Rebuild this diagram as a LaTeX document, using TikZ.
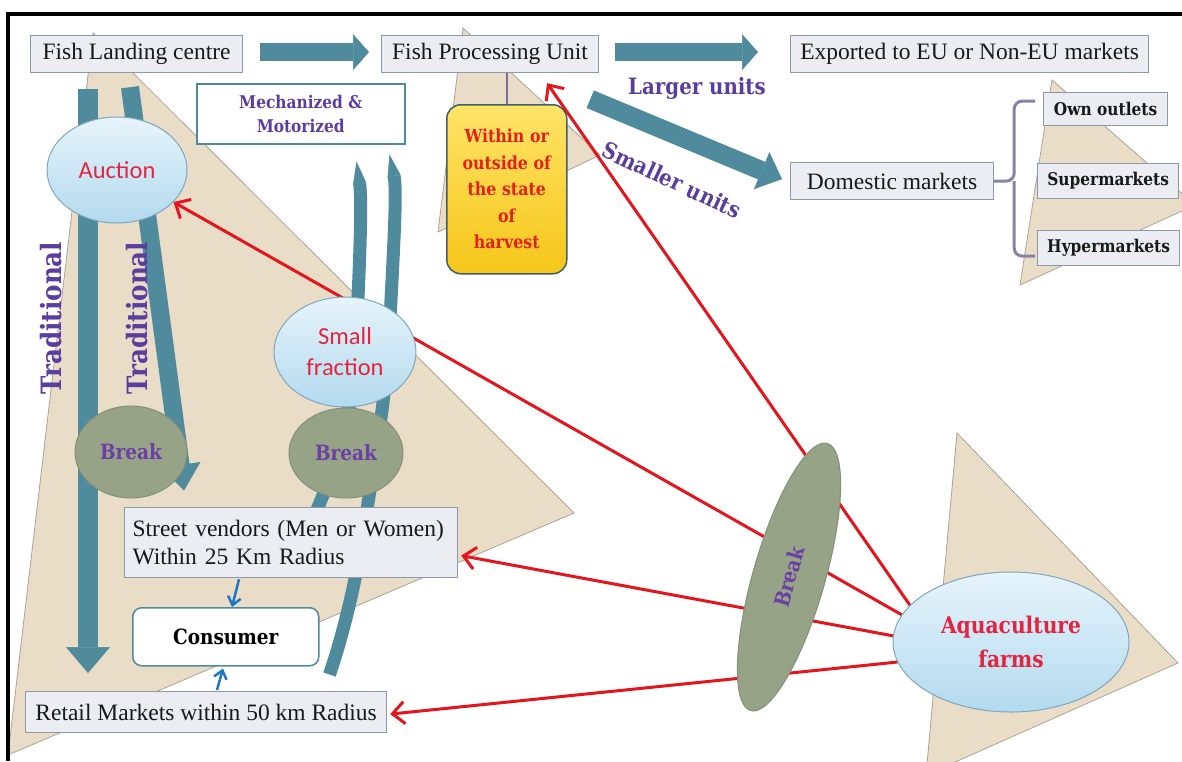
\documentclass[tikz,border=0pt]{standalone}
\usepackage{fontspec}
\setmainfont{Liberation Serif}
\newfontfamily\slab{DejaVu Serif}[FakeStretch=0.88]
\newfontfamily\calib{Carlito}
\usetikzlibrary{shapes.geometric,arrows.meta,calc}
\pgfdeclarelayer{bg}
\pgfdeclarelayer{mid}
\pgfsetlayers{bg,mid,main}
\definecolor{teal1}{HTML}{4F8B9C}
\definecolor{teal2}{HTML}{3E7282}
\definecolor{beige}{HTML}{E9DDC7}
\definecolor{beigeline}{HTML}{ABA497}
\definecolor{boxfill}{HTML}{EBEDF2}
\definecolor{boxline}{HTML}{8D98AC}
\definecolor{redA}{HTML}{E3161D}
\definecolor{purp}{HTML}{5A3E9F}
\definecolor{purpB}{HTML}{6B3FA6}
\definecolor{olive}{HTML}{96A386}
\definecolor{oliveline}{HTML}{84907A}
\definecolor{skyT}{HTML}{E6F4FB}
\definecolor{skyB}{HTML}{B3DAEE}
\definecolor{skyline}{HTML}{7DA7BF}
\definecolor{redtxt}{HTML}{E2253F}
\definecolor{redY}{HTML}{E3201B}
\definecolor{blueA}{HTML}{1E77C6}
\definecolor{bracec}{HTML}{8882A6}
\definecolor{yelT}{HTML}{FFE468}
\definecolor{yelB}{HTML}{F6C619}
\definecolor{yelline}{HTML}{40606A}
\definecolor{purpline}{HTML}{7D6BA8}
\tikzset{
  box/.style={draw=boxline, fill=boxfill, line width=1.2pt, inner sep=2pt, anchor=north west,
    font=\fontsize{23.5}{28.5}\selectfont, text=black!90},
  sbox/.style={box, font=\slab\bfseries\fontsize{17.5}{20}\selectfont},
  tri/.style={fill=beige, draw=beigeline, line width=0.8pt},
  ell/.style={ellipse, draw=skyline, line width=1pt, top color=skyT, bottom color=skyB, inner sep=0pt},
  brk/.style={ellipse, draw=oliveline, fill=olive, line width=1pt, inner sep=0pt, text=purpB,
    font=\slab\bfseries\fontsize{21}{24}\selectfont},
  lbl/.style={text=purp, inner sep=0pt, font=\slab\bfseries\fontsize{22.5}{26}\selectfont},
  blockarrow/.style={draw=teal1, line width=18pt, -{Triangle[length=16pt,width=36pt,line width=0.5pt]}},
  curvearrow/.style={draw=teal1, line width=13pt, -{Triangle[length=22pt,width=13pt,line width=0.5pt]}},
  redarrow/.style={draw=redA, line width=3pt, -{Straight Barb[length=12pt,width=22pt,line width=3pt]}},
  bluearrow/.style={draw=blueA, line width=2.5pt, -{Straight Barb[length=8pt,width=13pt,line width=2.5pt]}},
  bracestyle/.style={draw=bracec, line width=3pt, rounded corners=8pt}
}
\begin{document}
\begin{tikzpicture}[x=1pt,y=-1pt]
\useasboundingbox (0,0) rectangle (1182,761);

% ---------- nodes ----------
\node[box, minimum width=212pt, minimum height=37pt] (fl) at (30,35) {Fish Landing centre};
\node[box, minimum width=217pt, minimum height=37pt] (fpu) at (381,35) {Fish Processing Unit};
\node[box, minimum width=358pt, minimum height=37pt] (ex) at (790,35) {Exported to EU or Non-EU markets};
\node[box, minimum width=203pt, minimum height=37pt] (dm) at (790,162) {Domestic markets};
\node[sbox, minimum width=124pt, minimum height=33pt] (own) at (1043,92) {Own outlets};
\node[sbox, minimum width=141pt, minimum height=35pt] (sup) at (1037,163) {Supermarkets};
\node[sbox, minimum width=142pt, minimum height=35pt] (hyp) at (1037,230) {Hypermarkets};

\node[anchor=north west, draw=teal1, fill=white, line width=1.5pt, minimum width=208pt,
  minimum height=60pt, align=center, text=purp, inner sep=0pt,
  font=\slab\bfseries\fontsize{17.5}{24}\selectfont] (mech) at (196,83) {Mechanized \&\\Motorized};

\node[anchor=north west, draw=yelline, line width=1.5pt, rounded corners=14pt, top color=yelT,
  bottom color=yelB, minimum width=120pt, minimum height=169pt, align=center, text=redY,
  inner sep=0pt, font=\slab\bfseries\fontsize{18}{26.5}\selectfont] (yb) at (446,104)
  {Within or\\outside of\\the state\\of\\harvest};

\node[box, minimum width=333pt, minimum height=70pt, text width=317pt, align=left,
  inner xsep=8pt] (sv) at (124,507) {Street vendors (Men or Women)\\Within 25 Km Radius};
\node[anchor=north west, draw=teal1, fill=white, rounded corners=9pt, line width=1.5pt,
  minimum width=186pt, minimum height=58pt, inner sep=0pt,
  font=\slab\bfseries\fontsize{21}{24}\selectfont] (cons) at (132,607) {Consumer};
\node[box, minimum width=361pt, minimum height=41pt] (rm) at (25,691) {Retail Markets within 50 km Radius};

\node[ell, minimum width=140pt, minimum height=106pt, text=redtxt,
  font=\calib\fontsize{24.5}{31}\selectfont] (auction) at (117,170) {Auction};
\node[ell, minimum width=142pt, minimum height=110pt, align=center, text=redtxt,
  font=\calib\fontsize{24.5}{31}\selectfont] (small) at (345,352) {Small\\fraction};
\node[brk, minimum width=112pt, minimum height=92pt] (breakL) at (131,452) {Break};
\node[brk, minimum width=114pt, minimum height=90pt] (breakR) at (346,453) {Break};
\node[brk, minimum width=278pt, minimum height=72pt, rotate=74] (breakT) at (789,577) {Break};
\node[ell, minimum width=236pt, minimum height=140pt, align=center, text=redtxt,
  font=\slab\bfseries\fontsize{23}{34}\selectfont] (aqua) at (1011,642) {Aquaculture\\farms};

\node[lbl] (larger) at (697,88) {Larger units};
\node[lbl, rotate=-25] (smaller) at (672,180) {Smaller units};
\node[lbl, rotate=90, font=\slab\bfseries\fontsize{28}{30}\selectfont] (trad1) at (51,318) {Traditional};
\node[lbl, rotate=90, font=\slab\bfseries\fontsize{28}{30}\selectfont] (trad2) at (137,318) {Traditional};

% ---------- background triangles ----------
\begin{pgfonlayer}{bg}
\fill[white] (0,0) rectangle (1182,761);
\begin{scope}
\clip (0,0) rectangle (1182,761);
\filldraw[tri] (93,33) -- (574,513) -- (8,755) -- cycle;
\filldraw[tri] (463,28) -- (600,155) -- (438,232) -- cycle;
\filldraw[tri] (1052,80) -- (1195,205) -- (1020,285) -- cycle;
\filldraw[tri] (957,433) -- (1178,663) -- (926,775) -- cycle;
\end{scope}
\end{pgfonlayer}

% ---------- connectors ----------
\begin{pgfonlayer}{mid}
\coordinate (c1top) at ($(mech.south east)+(-49,17)$);
\coordinate (c2top) at ($(mech.south east)+(-16,10)$);
\coordinate (c1bot) at ($(sv.north west)+(190,10)$);
\coordinate (c2bot) at ($(cons.south east)+(10,8)$);
\coordinate (a2end) at ($(breakL.south)+(53,-8)$);
\coordinate (fputip) at ($(fpu.south)+(57,10)$);
\coordinate (svtip) at ($(sv.east)+(3,13)$);
\coordinate (rmtip) at ($(rm.east)+(3,2)$);

\draw[blockarrow] ($(fl.east)+(17,-2)$) -- ($(fpu.west)+(-12,-2)$);
\draw[blockarrow] ($(fpu.east)+(16,-2)$) -- ($(ex.west)+(-32,-2)$);
\draw[blockarrow, line width=19pt, -{Triangle[length=22pt,width=40pt,line width=0.5pt]}]
  ($(fpu.south east)+(-9,26)$) -- ($(dm.west)+(-8,-2)$);
\draw[blockarrow, line width=20pt, -{Triangle[length=26pt,width=44pt,line width=0.5pt]}]
  ($(fl.south west)+(58,16)$) -- ($(rm.north west)+(63,-18)$);
\draw[blockarrow, line width=18pt, -{Triangle[length=26pt,width=40pt,line width=0.5pt]}]
  ($(fl.south west)+(100,14)$) -- (a2end);

\draw[curvearrow] (c1bot) .. controls (338,460) and (352,420) .. (356,340)
  .. controls (360,260) and (362,200) .. (c1top);
\draw[curvearrow] (c2bot) .. controls (348,620) and (360,560) .. (368,503)
  .. controls (376,450) and (386,400) .. (390,320)
  .. controls (394,240) and (397,190) .. (c2top);

\draw[draw=purpline, line width=2pt] (yb.north) -- (yb.north |- fpu.south);

\draw[redarrow] (aqua.160) -- (fputip);
\draw[redarrow] (aqua.166) -- (auction);
\draw[redarrow] (aqua.177) -- (svtip);
\draw[redarrow] (aqua.190) -- (rmtip);

\draw[bluearrow] ($(sv.south west)+(115,1)$) -- ($(cons.north west)+(100,0)$);
\draw[bluearrow] ($(rm.north west)+(192,-1)$) -- ($(cons.south west)+(91,2)$);

\draw[bracestyle] ($(own.west)+(-8,-8)$) -| ($(dm.east)+(20,0)$) -- (dm.east);
\draw[bracestyle] ($(hyp.west)+(-2,8)$) -| ($(dm.east)+(20,0)$);
\end{pgfonlayer}

% ---------- frame ----------
\draw[line width=3.5pt, line join=miter] (8,761) -- (8,14) -- (1182,14);
\end{tikzpicture}
\end{document}
